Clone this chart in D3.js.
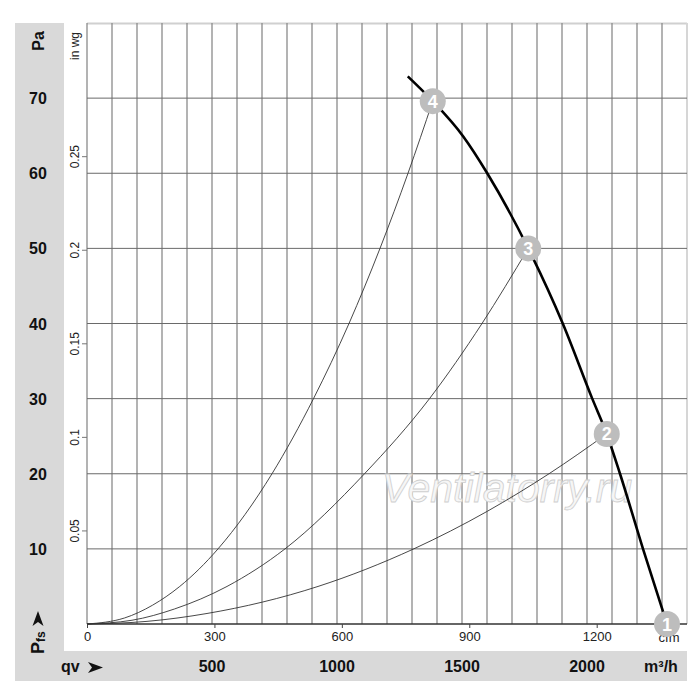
<!DOCTYPE html>
<html lang="en">
<head>
    <meta charset="utf-8">
    <title>Fan curve</title>
    <script type="text/javascript" src="https://d3js.org/d3.v7.min.js"></script>
    <style type="text/css">
        body { margin: 0; background: #fff; }
        svg { display: block; font-family: "Liberation Sans", Arial, sans-serif; }
        .big { font-weight: bold; font-size: 16px; fill: #111; }
        .small { font-size: 12px; fill: #222; }
    </style>
</head>
<body>
<div id="chart"></div>
<script type="text/javascript">

    //Width and height
    var w = 700;
    var h = 700;

    //Fan characteristic (m3/h, Pa)
    var fanQ = [1283, 1383, 1505, 1601, 1765, 1903, 2021, 2079, 2132, 2224, 2320];
    var fanP = [72.9, 69.6, 64.9, 60, 50, 40, 30, 25.3, 20, 10, 0];

    //System curves through operating points 2, 3, 4
    var sys2Q = [0, 240, 480, 924, 1307, 1601, 1848, 2079];
    var sys2P = [0, 0.35, 1.4, 5, 10, 15, 20, 25.3];
    var sys3Q = [0, 180, 350, 560, 792, 1110, 1370, 1580, 1765];
    var sys3P = [0, 0.5, 2, 5, 10, 20, 30, 40, 50];
    var sys4Q = [0, 150, 262, 371, 524, 740, 906, 1048, 1172, 1284, 1383];
    var sys4P = [0, 0.8, 2.5, 5, 10, 20, 30, 40, 50, 60, 69.6];

    //Operating point markers
    var markerQ = [2320, 2079, 1765, 1383];
    var markerP = [0, 25.3, 50, 69.6];
    var markerLabels = ["1", "2", "3", "4"];

    //Tick labels
    var paTicks = [10, 20, 30, 40, 50, 60, 70];
    var inwgTicks = [0.05, 0.1, 0.15, 0.2, 0.25];
    var cfmTicks = [0, 300, 600, 900, 1200];
    var m3hTicks = [500, 1000, 1500, 2000];

    var M3H_PER_CFM = 1.699;
    var PA_PER_INWG = 249.09;

    var x = d3.scaleLinear().domain([0, 2400]).range([87, 687]);
    var y = d3.scaleLinear().domain([0, 80]).range([624, 23]);
    var xCfm = d3.scaleLinear().domain([0, 2400 / M3H_PER_CFM]).range([87, 687]);
    var yInwg = d3.scaleLinear().domain([0, 80 / PA_PER_INWG]).range([624, 23]);

    var svg = d3.select("#chart")
        .append("svg")
        .attr("width", w)
        .attr("height", h);

    //Gray label panels
    svg.append("rect").attr("x", 15).attr("y", 23).attr("width", 49).attr("height", 658).attr("fill", "#d9d9d9");
    svg.append("rect").attr("x", 15).attr("y", 651).attr("width", 672).attr("height", 30).attr("fill", "#d9d9d9");

    //Border of plot
    svg.append("line").attr("x1", 87).attr("x2", 687).attr("y1", 23.5).attr("y2", 23.5)
        .attr("stroke", "#d0d0d0").attr("stroke-width", 2);
    svg.append("line").attr("x1", 687).attr("x2", 687).attr("y1", 23).attr("y2", 624)
        .attr("stroke", "#d6d6d6").attr("stroke-width", 2);

    //Vertical grid every 100 m3/h
    svg.append("g").selectAll("line")
        .data(d3.range(0, 2400, 100))
        .enter()
        .append("line")
        .attr("x1", function (d) { return x(d); })
        .attr("x2", function (d) { return x(d); })
        .attr("y1", 23)
        .attr("y2", 624)
        .attr("stroke", "#8a8a8a")
        .attr("stroke-width", 1.3);

    //Horizontal grid every 10 Pa
    svg.append("g").selectAll("line")
        .data(paTicks)
        .enter()
        .append("line")
        .attr("x1", 87)
        .attr("x2", 687)
        .attr("y1", function (d) { return y(d); })
        .attr("y2", function (d) { return y(d); })
        .attr("stroke", "#6a6a6a")
        .attr("stroke-width", 1);

    //Baseline
    svg.append("line").attr("x1", 87).attr("x2", 687).attr("y1", y(0)).attr("y2", y(0))
        .attr("stroke", "#333").attr("stroke-width", 1.5);

    //Watermark
    svg.append("text")
        .attr("x", 507)
        .attr("y", 502)
        .attr("text-anchor", "middle")
        .style("font-style", "italic")
        .style("font-size", "41px")
        .attr("fill", "#f6f6f6")
        .attr("stroke", "#cfcfcf")
        .attr("stroke-width", 0.8)
        .text("Ventilatorry.ru");

    //cfm axis under the plot
    var cfmAxis = svg.append("g")
        .attr("transform", "translate(0," + y(0) + ")")
        .call(d3.axisBottom(xCfm).tickValues(cfmTicks).tickSize(4).tickPadding(4).tickFormat(d3.format("d")));
    cfmAxis.select(".domain").remove();
    cfmAxis.selectAll("line").attr("stroke", "#444");
    cfmAxis.selectAll("text").attr("class", "small").style("font-size", "13px")
        .attr("fill", "#222").attr("font-family", null);

    svg.append("text").attr("class", "small").attr("x", 669).attr("y", 642)
        .attr("text-anchor", "middle").style("font-size", "13px").text("cfm");

    //in wg axis, rotated labels
    var inwgAxis = svg.append("g")
        .attr("transform", "translate(87,0)")
        .call(d3.axisLeft(yInwg).tickValues(inwgTicks).tickSize(5).tickFormat(d3.format("")));
    inwgAxis.select(".domain").remove();
    inwgAxis.selectAll("line").attr("stroke", "#777");
    inwgAxis.selectAll("text")
        .attr("x", null).attr("dy", null)
        .attr("text-anchor", "middle")
        .attr("transform", "translate(-8,0) rotate(-90)")
        .attr("fill", "#222").attr("font-family", null)
        .style("font-size", "12px");

    svg.append("text").attr("class", "small")
        .attr("transform", "translate(79,46) rotate(-90)")
        .attr("text-anchor", "middle")
        .text("in wg");

    //Pa labels
    svg.append("g").selectAll("text")
        .data(paTicks)
        .enter()
        .append("text")
        .attr("class", "big")
        .attr("x", 38)
        .attr("y", function (d) { return y(d) + 6; })
        .attr("text-anchor", "middle")
        .text(function (d) { return d; });

    svg.append("text").attr("class", "big")
        .attr("transform", "translate(44,41) rotate(-90)")
        .attr("text-anchor", "middle")
        .text("Pa");

    //m3/h labels
    svg.append("g").selectAll("text")
        .data(m3hTicks)
        .enter()
        .append("text")
        .attr("class", "big")
        .attr("x", function (d) { return x(d); })
        .attr("y", 672)
        .attr("text-anchor", "middle")
        .text(function (d) { return d; });

    svg.append("text").attr("class", "big").attr("x", 661).attr("y", 672)
        .attr("text-anchor", "middle").text("m³/h");

    //qv label and arrow
    svg.append("text").attr("class", "big").attr("x", 61).attr("y", 672).text("qv");
    svg.append("path").attr("d", "M88,662 L103,667.5 L88,673 L92,667.5 Z").attr("fill", "#111");

    //Pfs label and arrow
    var pfs = svg.append("text").attr("class", "big")
        .attr("transform", "translate(44,654) rotate(-90)")
        .style("font-size", "18px");
    pfs.append("tspan").text("P");
    pfs.append("tspan").style("font-size", "12px").attr("dy", 1).text("fs");
    svg.append("path").attr("d", "M32.5,626 L38,611 L43.5,626 L38,622 Z").attr("fill", "#111");

    //Curves
    var line = d3.line()
        .x(function (d) { return x(d[0]); })
        .y(function (d) { return y(d[1]); })
        .curve(d3.curveMonotoneX);

    var systems = [[sys2Q, sys2P], [sys3Q, sys3P], [sys4Q, sys4P]];
    svg.append("g").selectAll("path")
        .data(systems)
        .enter()
        .append("path")
        .attr("d", function (s) { return line(d3.zip(s[0], s[1])); })
        .attr("fill", "none")
        .attr("stroke", "#333")
        .attr("stroke-width", 0.9);

    svg.append("path")
        .attr("d", line(d3.zip(fanQ, fanP)))
        .attr("fill", "none")
        .attr("stroke", "#000")
        .attr("stroke-width", 2.6);

    //Operating point markers
    var markers = svg.append("g").selectAll("g")
        .data(d3.range(markerQ.length))
        .enter()
        .append("g")
        .attr("transform", function (i) {
            return "translate(" + x(markerQ[i]) + "," + y(markerP[i]) + ")";
        });

    markers.append("circle").attr("r", 13).attr("fill", "#bdbdbd");
    markers.append("text")
        .attr("y", 6.5)
        .attr("text-anchor", "middle")
        .style("font-weight", "bold")
        .style("font-size", "18px")
        .attr("fill", "#fff")
        .text(function (i) { return markerLabels[i]; });

</script>
</body>
</html>
